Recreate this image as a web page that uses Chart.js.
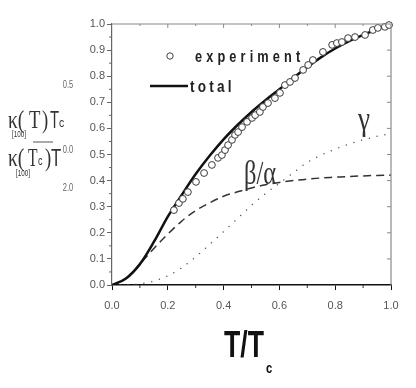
<!DOCTYPE html>
<html>
<head>
<meta charset="utf-8">
<script src="https://cdn.jsdelivr.net/npm/chart.js@4"></script>
<style>
  html, body { margin: 0; padding: 0; background: #fff; }
  #c { display: block; }
</style>
</head>
<body>
<canvas id="c" width="416" height="388"></canvas>
<script>
// reduced temperature grid for the model curves
const tGrid = [0, 0.05, 0.1, 0.15, 0.2, 0.25, 0.3, 0.35, 0.4, 0.45, 0.5,
  0.55, 0.6, 0.65, 0.7, 0.75, 0.8, 0.85, 0.9, 0.95, 1.0];
const totalCurve = [0, 0.025, 0.08, 0.165, 0.262, 0.345, 0.425, 0.495, 0.558, 0.613, 0.663,
  0.708, 0.75, 0.793, 0.835, 0.873, 0.906, 0.934, 0.958, 0.98, 1.0];
const betaAlphaCurve = [0, 0.025, 0.08, 0.14, 0.195, 0.245, 0.285, 0.315, 0.34, 0.357, 0.372,
  0.384, 0.393, 0.4, 0.406, 0.41, 0.413, 0.416, 0.418, 0.42, 0.421];
const gammaCurve = [0, 0.001, 0.005, 0.015, 0.035, 0.066, 0.108, 0.155, 0.205, 0.255, 0.305,
  0.35, 0.39, 0.43, 0.47, 0.498, 0.52, 0.54, 0.556, 0.57, 0.58];

// measured points
const expT = [0.222, 0.240, 0.254, 0.272, 0.301, 0.330, 0.358, 0.380, 0.394, 0.405,
  0.416, 0.430, 0.441, 0.452, 0.466, 0.484, 0.502, 0.513, 0.530, 0.541,
  0.559, 0.584, 0.602, 0.620, 0.638, 0.656, 0.685, 0.703, 0.720, 0.756,
  0.789, 0.806, 0.824, 0.846, 0.871, 0.907, 0.935, 0.953, 0.978, 0.993];
const expK = [0.287, 0.314, 0.330, 0.356, 0.395, 0.429, 0.460, 0.487, 0.498, 0.517,
  0.536, 0.556, 0.575, 0.586, 0.605, 0.625, 0.640, 0.651, 0.663, 0.682,
  0.697, 0.716, 0.736, 0.766, 0.778, 0.793, 0.824, 0.843, 0.862, 0.893,
  0.920, 0.927, 0.931, 0.946, 0.950, 0.958, 0.977, 0.985, 0.989, 0.996];

const sans = '"Liberation Sans", Arial, sans-serif';
const serif = '"Liberation Serif", "DejaVu Serif", serif';

function pts(xs, ys) {
  return xs.map((x, i) => ({ x: x, y: ys[i] }));
}

function txt(ctx, s, x, y, font, color, o) {
  o = o || {};
  ctx.save();
  ctx.font = font;
  ctx.fillStyle = color;
  ctx.textAlign = o.align || 'left';
  ctx.textBaseline = o.base || 'alphabetic';
  if (o.ls) ctx.letterSpacing = o.ls;
  ctx.translate(x, y);
  ctx.scale(o.sx || 1, 1);
  ctx.fillText(s, 0, 0);
  ctx.restore();
}

// frame, minor ticks, legend and labels
const decor = {
  id: 'decor',
  afterDraw(chart) {
    const ctx = chart.ctx;
    const a = chart.chartArea;
    const xs = chart.scales.x, ys = chart.scales.y;
    ctx.save();
    // top and right frame
    ctx.strokeStyle = '#8a8a8a';
    ctx.lineWidth = 1.2;
    ctx.beginPath();
    ctx.moveTo(a.left, a.top); ctx.lineTo(a.right, a.top); ctx.lineTo(a.right, a.bottom);
    ctx.stroke();
    ctx.lineWidth = 1;
    for (let i = 1; i < 10; i++) {
      const px = xs.getPixelForValue(i / 10);
      ctx.beginPath(); ctx.moveTo(px, a.top); ctx.lineTo(px, a.top + (i % 2 ? 2 : 4)); ctx.stroke();
      const py = ys.getPixelForValue(i / 10);
      ctx.beginPath(); ctx.moveTo(a.right, py); ctx.lineTo(a.right - 4, py); ctx.stroke();
    }
    // minor ticks on bottom and left axes
    ctx.strokeStyle = '#333';
    for (let i = 1; i < 10; i += 2) {
      const px = xs.getPixelForValue(i / 10);
      ctx.beginPath(); ctx.moveTo(px, a.bottom); ctx.lineTo(px, a.bottom + 3); ctx.stroke();
    }
    ctx.strokeStyle = '#666';
    for (let i = 0; i < 10; i++) {
      const py = ys.getPixelForValue(i / 10 + 0.05);
      ctx.beginPath(); ctx.moveTo(a.left, py); ctx.lineTo(a.left - 3, py); ctx.stroke();
    }
    ctx.restore();

    // legend
    ctx.save();
    ctx.strokeStyle = '#444'; ctx.lineWidth = 1; ctx.fillStyle = '#fff';
    ctx.beginPath(); ctx.arc(170, 56, 3.2, 0, Math.PI * 2); ctx.fill(); ctx.stroke();
    ctx.strokeStyle = '#111'; ctx.lineWidth = 2.5;
    ctx.beginPath(); ctx.moveTo(150, 86); ctx.lineTo(188, 86); ctx.stroke();
    ctx.restore();
    txt(ctx, 'experiment', 195, 62, 'bold 17px ' + sans, '#222', { ls: '5.5px', sx: 0.75 });
    txt(ctx, 'total', 190, 92, 'bold 17px ' + sans, '#222', { ls: '4px', sx: 0.8 });

    // curve labels
    txt(ctx, 'β/α', 244, 184, '34px ' + serif, '#333', { sx: 0.72 });
    txt(ctx, 'γ', 358, 130, '34px ' + serif, '#333', { sx: 0.8 });

    // x title
    txt(ctx, 'T/T', 224, 357, 'bold 37px ' + sans, '#111', { sx: 0.72 });
    txt(ctx, 'c', 266, 373, 'bold 14px ' + sans, '#111', { sx: 0.8 });

    // y title: kappa_[100](T) Tc / kappa_[100](Tc) T
    const g = '#333';
    txt(ctx, 'κ(', 8, 128, '26px ' + serif, g, { sx: 0.75 });
    txt(ctx, 'T', 29, 128, '26px ' + serif, g, { sx: 0.72 });
    txt(ctx, ')', 42, 128, '26px ' + serif, g, { sx: 0.72 });
    txt(ctx, 'T', 50, 128, '24px ' + sans, g, { sx: 0.62 });
    txt(ctx, 'c', 59, 127, '13px ' + sans, g, { sx: 0.8 });
    txt(ctx, '[100]', 12, 137, '9px ' + sans, g, { sx: 0.7 });
    ctx.save();
    ctx.strokeStyle = '#555'; ctx.lineWidth = 1;
    ctx.beginPath(); ctx.moveTo(33, 142); ctx.lineTo(53, 142); ctx.stroke();
    ctx.restore();
    txt(ctx, 'κ(', 8, 166, '26px ' + serif, g, { sx: 0.75 });
    txt(ctx, 'T', 28, 166, '26px ' + serif, g, { sx: 0.6 });
    txt(ctx, 'c', 38, 165, '12px ' + sans, g, { sx: 0.75 });
    txt(ctx, ')', 45, 166, '26px ' + serif, g, { sx: 0.72 });
    txt(ctx, 'T', 51, 166, '24px ' + sans, g, { sx: 0.7 });
    txt(ctx, '[100]', 16, 176, '9px ' + sans, g, { sx: 0.7 });
    txt(ctx, '0.5', 68, 88, '10px ' + sans, '#666', { align: 'center', sx: 0.75 });
    txt(ctx, '0.0', 68, 153, '10px ' + sans, '#666', { align: 'center', sx: 0.75 });
    txt(ctx, '2.0', 68, 191, '10px ' + sans, '#666', { align: 'center', sx: 0.75 });
  }
};

const chart = new Chart(document.getElementById('c'), {
  type: 'line',
  data: {
    datasets: [
      {
        label: 'experiment',
        data: pts(expT, expK),
        showLine: false,
        pointStyle: 'circle',
        pointRadius: 3.4,
        pointBorderWidth: 1,
        pointBorderColor: '#3a3a3a',
        pointBackgroundColor: '#fff',
        clip: false,
        order: 0,
      },
      {
        label: 'total',
        data: pts(tGrid, totalCurve),
        borderColor: '#111',
        borderWidth: 2.5,
        pointRadius: 0,
        cubicInterpolationMode: 'monotone',
        order: 1,
      },
      {
        label: 'β/α',
        data: pts(tGrid, betaAlphaCurve),
        borderColor: '#333',
        borderWidth: 1.5,
        borderDash: [8, 5],
        pointRadius: 0,
        cubicInterpolationMode: 'monotone',
        order: 2,
      },
      {
        label: 'γ',
        data: pts(tGrid, gammaCurve),
        borderColor: '#555',
        borderWidth: 1.5,
        borderDash: [0, 8],
        borderCapStyle: 'round',
        pointRadius: 0,
        cubicInterpolationMode: 'monotone',
        order: 3,
      },
    ],
  },
  options: {
    responsive: false,
    animation: false,
    layout: { padding: { top: 24, right: 25, left: 0, bottom: 0 } },
    plugins: { legend: { display: false }, tooltip: { enabled: false } },
    scales: {
      x: {
        type: 'linear',
        min: 0, max: 1,
        border: { color: '#111', width: 1.5 },
        grid: { drawOnChartArea: false, tickLength: 5, color: '#111' },
        ticks: {
          stepSize: 0.2,
          callback: v => v.toFixed(1),
          color: '#555',
          font: { family: sans, size: 11 },
          padding: 9,
          maxRotation: 0,
        },
        afterFit: s => { s.height = 103; },
      },
      y: {
        min: 0, max: 1,
        border: { color: '#666', width: 1.2 },
        grid: { drawOnChartArea: false, tickLength: 5, color: '#666' },
        ticks: {
          stepSize: 0.1,
          callback: v => v.toFixed(1),
          color: '#555',
          font: { family: sans, size: 11 },
          padding: 2,
        },
        afterFit: s => { s.width = 112; },
      },
    },
  },
  plugins: [decor],
});
</script>
</body>
</html>
